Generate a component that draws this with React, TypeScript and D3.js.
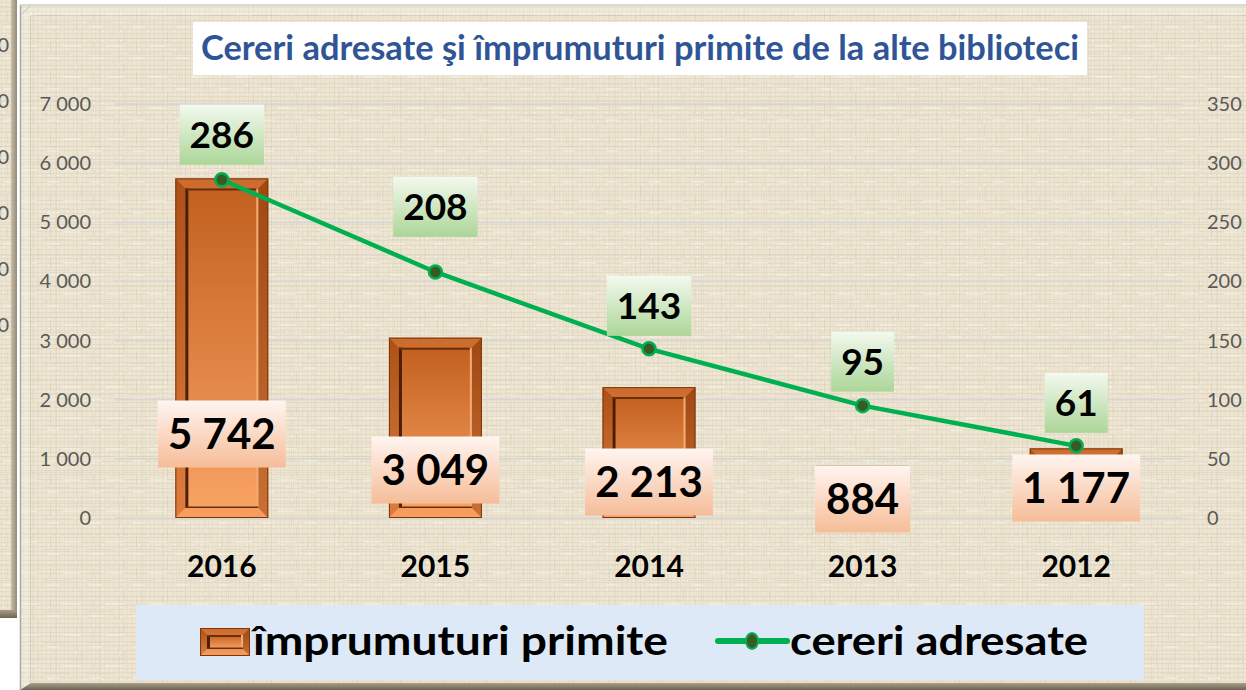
import React from 'react';
import * as d3 from 'd3';

const years = ['2016', '2015', '2014', '2013', '2012'];
const loans = [5742, 3049, 2213, 884, 1177];
const requests = [286, 208, 143, 95, 61];
const leftTicks = [0, 1000, 2000, 3000, 4000, 5000, 6000, 7000];
const rightTicks = [0, 50, 100, 150, 200, 250, 300, 350];
const ghostTicks = [7000, 6000, 5000, 4000, 3000, 2000];
const titleText = 'Cereri adresate şi împrumuturi primite de la alte biblioteci';
const legendBarText = 'împrumuturi primite';
const legendLineText = 'cereri adresate';

// label placement (layout, pixels)
const barLabelLift = [84, 48, 36, 19, 30];
const lineLabelLift = [45, 65, 43, 44, 43];

const W = 1246;
const H = 690;
const PL = 115, PR = 1183, PT = 104, PB = 518;
const FONT = 'Lato, "Open Sans", sans-serif';

const fmt = (v: number) => d3.format(',')(v).replace(/,/g, ' ');
const textW = (s: string, fs: number) => {
  let w = 0;
  for (const c of s) w += c === ' ' ? 0.2 : 0.58;
  return w * fs;
};

function Bar({ x, y, w, h }: { x: number; y: number; w: number; h: number }) {
  const b = Math.min(10, h / 4);
  const ix = x + b, iy = y + b, iw = w - 2 * b, ih = h - 2 * b;
  return (
    <g>
      <rect x={x} y={y} width={w} height={h} fill="url(#barOuter)" />
      <polygon points={`${x},${y} ${x + w},${y} ${ix + iw},${iy} ${ix},${iy}`} fill="#e8884a" opacity={0.45} />
      <polygon points={`${x},${y} ${ix},${iy} ${ix},${iy + ih} ${x},${y + h}`} fill="#9a4412" opacity={0.25} />
      <polygon points={`${x + w},${y} ${x + w},${y + h} ${ix + iw},${iy + ih} ${ix + iw},${iy}`} fill="#7a3209" opacity={0.35} />
      <polygon points={`${x},${y + h} ${x + w},${y + h} ${ix + iw},${iy + ih} ${ix},${iy + ih}`} fill="#ffb880" opacity={0.35} />
      <rect x={ix} y={iy} width={iw} height={Math.max(0, ih)} fill="url(#barInner)" />
      <line x1={ix + 1.5} y1={iy} x2={ix + 1.5} y2={iy + ih} stroke="#4a1e05" strokeWidth={3} />
      <line x1={ix} y1={iy + 1} x2={ix + iw} y2={iy + 1} stroke="#6a2e0a" strokeWidth={2} />
      <line x1={ix + iw - 1} y1={iy} x2={ix + iw - 1} y2={iy + ih} stroke="#f0aa74" strokeWidth={2} />
      <line x1={ix} y1={iy + ih - 0.75} x2={ix + iw} y2={iy + ih - 0.75} stroke="#6a2e0a" strokeWidth={1.5} />
      <rect x={x + 0.5} y={y + 0.5} width={w - 1} height={h - 1} fill="none" stroke="#7a3810" strokeWidth={1} />
    </g>
  );
}

export default function App() {
  const x = d3.scaleBand<string>().domain(years).range([PL, PR]).paddingInner(0.565).paddingOuter(0.2825);
  const yL = d3.scaleLinear().domain([0, 7000]).range([PB, PT]);
  const yR = d3.scaleLinear().domain([0, 350]).range([PB, PT]);
  const cx = (yr: string) => (x(yr) as number) + x.bandwidth() / 2;
  const line = d3
    .line<number>()
    .x((_, i) => cx(years[i]))
    .y((d) => yR(d));
  const ghostY = d3.scaleLinear().domain([7000, 2000]).range([45, 325]);

  return (
    <div style={{ position: 'absolute', left: 0, top: 0 }}>
      <svg width={W} height={H} style={{ display: 'block', fontFamily: FONT }}>
        <defs>
          <pattern id="linen" width="9" height="9" patternUnits="userSpaceOnUse">
            <rect width="9" height="9" fill="#ede5d2" />
            <path d="M0 2.5H9 M0 6.5H9" stroke="#ddd3bd" strokeWidth="1" opacity="0.55" />
            <path d="M1.5 0V9 M5.5 0V9" stroke="#e0d7c2" strokeWidth="1" opacity="0.45" />
            <rect x="3" y="4" width="2" height="1" fill="#f8f4ea" opacity="0.8" />
          </pattern>
          <pattern id="linen2" width="43" height="31" patternUnits="userSpaceOnUse">
            <path d="M0 7.5H43 M0 22.5H27" stroke="#cdc2a8" strokeWidth="1" opacity="0.3" />
            <path d="M13.5 0V31 M33.5 6V31" stroke="#cfc4aa" strokeWidth="1" opacity="0.28" />
            <path d="M20 15H37 M4 27H16" stroke="#f8f4e9" strokeWidth="1.5" opacity="0.55" />
            <path d="M38.5 0V12 M7.5 10V20" stroke="#c8bca1" strokeWidth="1" opacity="0.25" />
          </pattern>
          <linearGradient id="barOuter" x1="0" y1="0" x2="0" y2="1">
            <stop offset="0" stopColor="#b45518" />
            <stop offset="1" stopColor="#f4904c" />
          </linearGradient>
          <linearGradient id="barInner" x1="0" y1="0" x2="0" y2="1">
            <stop offset="0" stopColor="#c2601f" />
            <stop offset="1" stopColor="#f8a264" />
          </linearGradient>
          <linearGradient id="peach" x1="0" y1="0" x2="0" y2="1">
            <stop offset="0" stopColor="#fff5f1" />
            <stop offset="1" stopColor="#f6bd98" />
          </linearGradient>
          <linearGradient id="mint" x1="0" y1="0" x2="0" y2="1">
            <stop offset="0" stopColor="#f3f9ef" />
            <stop offset="1" stopColor="#acd697" />
          </linearGradient>
          <linearGradient id="bottomBevel" x1="0" y1="0" x2="0" y2="1">
            <stop offset="0" stopColor="#a89d88" />
            <stop offset="1" stopColor="#6d6454" />
          </linearGradient>
          <linearGradient id="ghostEdge" x1="0" y1="0" x2="1" y2="0">
            <stop offset="0" stopColor="#c4b9a3" />
            <stop offset="1" stopColor="#857a68" />
          </linearGradient>
          <clipPath id="ghostClip">
            <rect x="0" y="0" width="12" height="618" />
          </clipPath>
        </defs>

        <rect x={0} y={0} width={W} height={H} fill="#ffffff" />

        {/* partial chart behind, at the left edge */}
        <rect x={0} y={0} width={17} height={618} fill="url(#linen)" />
        <rect x={0} y={0} width={17} height={618} fill="url(#linen2)" />
        <rect x={11} y={0} width={6} height={618} fill="url(#ghostEdge)" opacity={0.85} />
        <rect x={0} y={610} width={17} height={8} fill="url(#bottomBevel)" />
        <g clipPath="url(#ghostClip)">
          {ghostTicks.map((t) => (
            <text key={t} x={9} y={ghostY(t) + 7} textAnchor="end" fontSize={20} fill="#595959">
              {fmt(t)}
            </text>
          ))}
        </g>

        {/* main chart panel */}
        <rect x={20} y={5} width={W - 20} height={H - 5} fill="url(#linen)" />
        <rect x={20} y={5} width={W - 20} height={H - 5} fill="url(#linen2)" />
        <polygon points={`20,5 ${W},5 ${W},16 31,16 31,683 20,690`} fill="#ffffff" opacity={0.2} />
        <line x1={30.5} y1={16} x2={30.5} y2={683} stroke="#b9ad95" strokeWidth={1} opacity={0.5} />
        <line x1={31} y1={15.5} x2={W} y2={15.5} stroke="#b9ad95" strokeWidth={1} opacity={0.4} />
        <line x1={20} y1={16} x2={31} y2={5} stroke="#b9ad95" strokeWidth={1} opacity={0.6} />
        <polygon points={`20,690 31,683 ${W},683 ${W},690`} fill="url(#bottomBevel)" />
        <line x1={20.5} y1={5} x2={20.5} y2={H} stroke="#a8a8a8" strokeWidth={1.5} />
        <line x1={20} y1={5} x2={W} y2={5} stroke="#d0d0d0" strokeWidth={1.5} />

        {/* gridlines */}
        {leftTicks.map((t) => (
          <line key={t} x1={PL} x2={PR} y1={yL(t)} y2={yL(t)} stroke="#d6d6d6" strokeWidth={1.75} />
        ))}

        {/* left axis */}
        {leftTicks.map((t) => (
          <text key={t} x={91} y={yL(t) + 7} textAnchor="end" fontSize={20} fill="#595959">
            {fmt(t)}
          </text>
        ))}
        {/* right axis */}
        {rightTicks.map((t) => (
          <text key={t} x={1207} y={yR(t) + 7} textAnchor="start" fontSize={20} fill="#595959">
            {fmt(t)}
          </text>
        ))}

        {/* bars */}
        {loans.map((v, i) => (
          <Bar key={i} x={x(years[i]) as number} y={yL(v)} w={x.bandwidth()} h={yL(0) - yL(v)} />
        ))}

        {/* line */}
        <path d={line(requests) || ''} fill="none" stroke="#00b050" strokeWidth={4.5} strokeLinejoin="round" />
        {requests.map((v, i) => (
          <circle key={i} cx={cx(years[i])} cy={yR(v)} r={6.5} fill="#3a5a24" stroke="#00b050" strokeWidth={2.5} />
        ))}

        {/* bar labels */}
        {loans.map((v, i) => {
          const s = fmt(v);
          const tw = textW(s, 42);
          const bw = tw + 22;
          const cy = PB - barLabelLift[i];
          return (
            <g key={i}>
              <rect x={cx(years[i]) - bw / 2} y={cy - 33.5} width={bw} height={67} fill="url(#peach)" />
              <text x={cx(years[i])} y={cy + 15} textAnchor="middle" fontSize={42} fontWeight={700} fill="#000">
                {s}
              </text>
            </g>
          );
        })}

        {/* line labels */}
        {requests.map((v, i) => {
          const s = fmt(v);
          const tw = textW(s, 37);
          const bw = tw + 20;
          const cy = yR(v) - lineLabelLift[i];
          return (
            <g key={i}>
              <rect x={cx(years[i]) - bw / 2} y={cy - 30} width={bw} height={60} fill="url(#mint)" />
              <text x={cx(years[i])} y={cy + 13.5} textAnchor="middle" fontSize={37} fontWeight={700} fill="#000">
                {s}
              </text>
            </g>
          );
        })}

        {/* category labels */}
        {years.map((yr) => (
          <text key={yr} x={cx(yr)} y={577} textAnchor="middle" fontSize={30} fontWeight={700} fill="#000">
            {yr}
          </text>
        ))}

        {/* title */}
        <rect x={193} y={22} width={894} height={53} fill="#ffffff" />
        <text x={201} y={60} fontSize={34} fontWeight={700} fill="#2f5597" textLength={878} lengthAdjust="spacingAndGlyphs">
          {titleText}
        </text>

        {/* legend */}
        <rect x={136} y={605} width={1008} height={75} fill="#dde9f6" />
        <Bar x={200} y={628} w={50} h={28} />
        <text x={253} y={655} fontSize={40} fontWeight={700} fill="#000" textLength={415} lengthAdjust="spacingAndGlyphs">
          {legendBarText}
        </text>
        <line x1={718} x2={787} y1={641} y2={641} stroke="#00b050" strokeWidth={6} strokeLinecap="round" />
        <ellipse cx={752} cy={641} rx={6} ry={8} fill="#3a5a24" stroke="#00b050" strokeWidth={2} />
        <text x={790} y={655} fontSize={40} fontWeight={700} fill="#000" textLength={298} lengthAdjust="spacingAndGlyphs">
          {legendLineText}
        </text>
      </svg>
    </div>
  );
}
